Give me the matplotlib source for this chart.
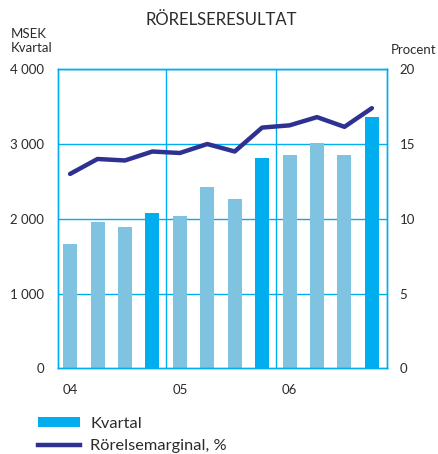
import numpy as np
import matplotlib
matplotlib.use('Agg')
import matplotlib.pyplot as plt
from matplotlib.patches import Patch
from matplotlib.lines import Line2D

# ---- Données ----
kvartal = [1660, 1960, 1890, 2080, 2040, 2425, 2265, 2815, 2855, 3010, 2855, 3360]
marginal = [13.0, 14.0, 13.9, 14.5, 14.4, 15.0, 14.5, 16.1, 16.25, 16.8, 16.15, 17.4]
ar_labels = ['04', '05', '06']
ar_pos = [0, 4, 8]
y_ticks = [0, 1000, 2000, 3000, 4000]
y_ticklabels = ['0', '1 000', '2 000', '3 000', '4 000']
p_ticks = [0, 5, 10, 15, 20]

# ---- Style ----
plt.rcParams['font.family'] = ['Lato', 'DejaVu Sans']
txt = '#2b2b2b'
cyan = '#00aeef'
ljus = '#80c3e0'
navy = '#2e3192'

fig = plt.figure(figsize=(4.39, 4.54), dpi=100)
ax = fig.add_axes([0.1321, 0.1888, 0.7494, 0.6586])

x = np.arange(len(kvartal))
farger = [cyan if (i % 4 == 3) else ljus for i in x]
ax.bar(x, kvartal, width=0.51, color=farger, zorder=2)

ax.set_xlim(-0.44, 11.55)
ax.set_ylim(0, 4000)
ax.set_yticks(y_ticks)
ax.set_yticklabels(y_ticklabels)
ax.set_xticks(ar_pos)
ax.set_xticklabels(ar_labels)

# Rutnät
for v in y_ticks[1:]:
    ax.axhline(v, color=cyan, lw=1.0, zorder=1)
for v in [3.5, 7.5]:
    ax.axvline(v, color=cyan, lw=1.0, zorder=1)
for s in ax.spines.values():
    s.set_color(cyan)
    s.set_linewidth(1.0)

ax.tick_params(length=0, labelsize=9.5, colors=txt)
ax.tick_params(axis='y', pad=10)
ax.tick_params(axis='x', pad=11)

ax2 = ax.twinx()
ax2.plot(x, marginal, color=navy, lw=3.2, solid_capstyle='round', zorder=3)
ax2.set_ylim(0, 20)
ax2.set_yticks(p_ticks)
ax2.tick_params(length=0, labelsize=9.5, colors=txt, pad=9)
for s in ax2.spines.values():
    s.set_color(cyan)
    s.set_linewidth(1.0)

fig.text(0.505, 0.955, 'RÖRELSERESULTAT', ha='center', va='center', fontsize=12, color=txt)
fig.text(0.025, 0.91, 'MSEK\nKvartal', ha='left', va='center', fontsize=9.5,
         color=txt, linespacing=1.2)
fig.text(0.89, 0.89, 'Procent', ha='left', va='center', fontsize=9.5, color=txt)

handles = [Patch(facecolor=cyan, edgecolor='none'),
           Line2D([0], [0], color=navy, lw=3.2)]
fig.legend(handles, ['Kvartal', 'Rörelsemarginal, %'], loc='lower left',
           bbox_to_anchor=(0.052, -0.03), frameon=False, fontsize=11.8,
           labelcolor=txt, handlelength=2.6, handleheight=0.52,
           handletextpad=0.62, labelspacing=0.5)

fig.savefig('out.png', dpi=100)
